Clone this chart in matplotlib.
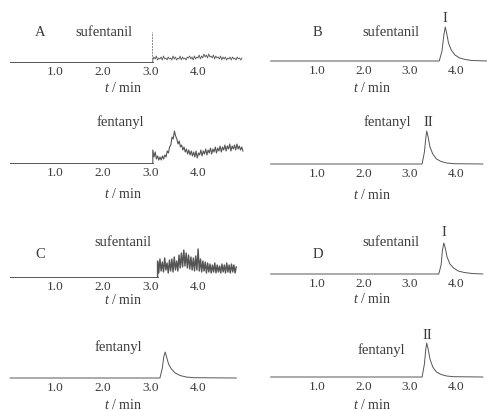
import matplotlib
matplotlib.use("Agg")
import matplotlib.pyplot as plt
import numpy as np

plt.rcParams['font.family'] = ['Liberation Serif', 'DejaVu Serif']
plt.rcParams['mathtext.fontset'] = 'custom'
plt.rcParams['mathtext.it'] = 'Liberation Serif:italic'
plt.rcParams['mathtext.rm'] = 'Liberation Serif'

TXT = '#3a3a3a'
LINE = '#555555'

ticks = [1, 2, 3, 4]
tick_labels = ['1.0', '2.0', '3.0', '4.0']

# --- A: blank, sufentanil channel (noise after 3.0 min) ---
a_suf_spike = (3.03, 30)
a_suf_noise = [2, 5, 3, 6, 2, 4, 3, 5, 2, 6, 3, 4, 2, 5, 3, 4, 2, 6, 3, 5,
               2, 4, 3, 6, 2, 5, 3, 4, 2, 5, 4, 6, 3, 5, 2, 6, 3, 5, 4, 7,
               3, 6, 4, 8, 5, 7, 4, 8, 5, 6, 4, 7, 3, 6, 4, 5, 3, 6, 2, 5,
               3, 5, 2, 4, 3, 5, 2, 5, 3, 4, 2, 5, 3, 4, 2, 4]
a_suf_range = (3.05, 4.92)

# --- A: blank, fentanyl channel ---
a_fen_noise = [13, 6, 11, 4, 7, 3, 6, 3, 7, 4, 8, 6, 12, 10, 16, 18, 26, 24, 32, 27,
               24, 19, 22, 16, 18, 13, 16, 11, 14, 9, 13, 8, 12, 7, 11, 6, 12, 5, 10, 8,
               13, 7, 12, 9, 14, 8, 13, 10, 15, 9, 14, 11, 16, 10, 15, 12, 17, 11, 16, 13,
               18, 12, 17, 14, 19, 12, 17, 14, 18, 13, 19, 14, 17, 13, 16, 12]
a_fen_range = (3.05, 4.94)

# --- B: standard, sufentanil peak I ---
b_suf_t = [0.0, 3.64, 3.70, 3.74, 3.77, 3.80, 3.84, 3.90, 3.98, 4.08, 4.20, 4.35, 4.69]
b_suf_y = [0, 0, 10, 26, 34, 28, 18, 11, 6, 3, 1.5, 0.5, 0]

# --- B: standard, fentanyl peak II ---
b_fen_t = [0.0, 3.27, 3.32, 3.35, 3.37, 3.40, 3.44, 3.50, 3.58, 3.68, 3.80, 3.95, 4.58]
b_fen_y = [0, 0, 12, 26, 33, 27, 17, 10, 5, 2.5, 1, 0.3, 0]

# --- C: sample, sufentanil channel (noise) ---
c_suf_noise = [16, 4, 18, 6, 15, 5, 19, 7, 14, 4, 17, 6, 18, 5, 20, 7, 16, 6, 22, 9,
               24, 10, 27, 11, 24, 9, 22, 8, 20, 7, 19, 6, 21, 7, 28, 6, 18, 5, 16, 6,
               15, 4, 14, 5, 13, 4, 12, 5, 14, 4, 12, 5, 11, 4, 13, 5, 12, 4, 14, 5,
               12, 4, 13, 5, 12, 4, 10]
c_suf_range = (3.15, 4.80)

# --- C: sample, fentanyl peak ---
c_fen_t = [0.06, 3.20, 3.25, 3.28, 3.31, 3.34, 3.38, 3.44, 3.52, 3.62, 3.75, 3.90, 4.80]
c_fen_y = [0, 0, 10, 21, 26, 21, 14, 9, 5, 2.5, 1, 0.3, 0]

# --- D: spiked sample, sufentanil peak I ---
d_suf_t = [0.0, 3.63, 3.68, 3.71, 3.74, 3.77, 3.81, 3.87, 3.95, 4.05, 4.18, 4.35, 4.58]
d_suf_y = [0, 0, 9, 24, 31, 26, 17, 10, 6, 3, 1.5, 0.5, 0]

# --- D: spiked sample, fentanyl peak II ---
d_fen_t = [0.0, 3.27, 3.32, 3.35, 3.37, 3.40, 3.44, 3.50, 3.58, 3.68, 3.80, 3.95, 4.58]
d_fen_y = [0, 0, 13, 28, 34, 28, 18, 10, 5, 2.5, 1, 0.3, 0]

W, H = 487, 411
fig = plt.figure(figsize=(W / 100, H / 100), dpi=100)


def make_ax(x0, ppm, xmax, base):
    ax = fig.add_axes([x0 / W, 1 - base / H, ppm * xmax / W, 45 / H])
    ax.set_xlim(0, xmax)
    ax.set_ylim(0, 45)
    for s in ax.spines.values():
        s.set_visible(False)
    ax.set_yticks([])
    ax.set_xticks(ticks)
    ax.set_xticklabels(tick_labels, fontsize=9.5, color=TXT)
    ax.tick_params(axis='x', length=0, pad=3)
    ax.patch.set_alpha(0)
    return ax


def trace(ax, t, y, lw=0.7):
    ax.plot(t, y, color=LINE, lw=lw, clip_on=False)


def label(ax, t, h, s, size=10.5):
    ax.text(t, h, s, ha='center', va='center', fontsize=size, color=TXT, clip_on=False)


def xlabel(ax, t, dy):
    ax.text(t, -dy, '$t$ / min', ha='center', va='center', fontsize=10, color=TXT, clip_on=False)


def noisy(ax, start, vals, rng, lw=0.6):
    t = np.linspace(rng[0], rng[1], len(vals))
    trace(ax, [start, rng[0]], [0, 0])
    trace(ax, np.r_[rng[0], t], np.r_[0, vals], lw=lw)


L0, LP = 7.3, 47.7
R0, RP = 270.7, 46.3

# Row 1
ax = make_ax(L0, LP, 4.95, 62)
noisy(ax, 0.06, a_suf_noise, a_suf_range)
ax.vlines(a_suf_spike[0], 0, a_suf_spike[1], color='#888888', lw=0.7, linestyles=(0, (2, 1)))
label(ax, 0.68, 29, 'A')
label(ax, 2.03, 29, 'sufentanil')
xlabel(ax, 2.43, 26)

ax = make_ax(R0, RP, 4.6, 61)
trace(ax, b_suf_t, b_suf_y)
label(ax, 1.02, 28, 'B')
label(ax, 2.60, 28, 'sufentanil')
label(ax, 3.77, 43, 'I')
xlabel(ax, 2.19, 27)

# Row 2
ax = make_ax(L0, LP, 4.95, 163)
noisy(ax, 0.06, a_fen_noise, a_fen_range, lw=0.8)
label(ax, 2.38, 41, 'fentanyl')
xlabel(ax, 2.43, 31)

ax = make_ax(R0, RP, 4.6, 164)
trace(ax, b_fen_t, b_fen_y)
label(ax, 2.51, 42, 'fentanyl')
label(ax, 3.40, 42, 'II')
xlabel(ax, 2.19, 31)

# Row 3
ax = make_ax(L0, LP, 4.95, 277)
noisy(ax, 0.06, c_suf_noise, c_suf_range, lw=1.0)
label(ax, 0.69, 23, 'C')
label(ax, 2.42, 35, 'sufentanil')
xlabel(ax, 2.43, 23)

ax = make_ax(R0, RP, 4.6, 274)
trace(ax, d_suf_t, d_suf_y)
label(ax, 1.02, 19, 'D')
label(ax, 2.60, 32, 'sufentanil')
label(ax, 3.74, 42, 'I')
xlabel(ax, 2.19, 25)

# Row 4
ax = make_ax(L0, LP, 4.95, 378)
trace(ax, c_fen_t, c_fen_y)
label(ax, 2.32, 31, 'fentanyl')
xlabel(ax, 2.43, 27)

ax = make_ax(R0, RP, 4.6, 377)
trace(ax, d_fen_t, d_fen_y)
label(ax, 2.40, 27, 'fentanyl')
label(ax, 3.38, 42, 'II')
xlabel(ax, 2.19, 28)

fig.savefig('out.png', dpi=100)
